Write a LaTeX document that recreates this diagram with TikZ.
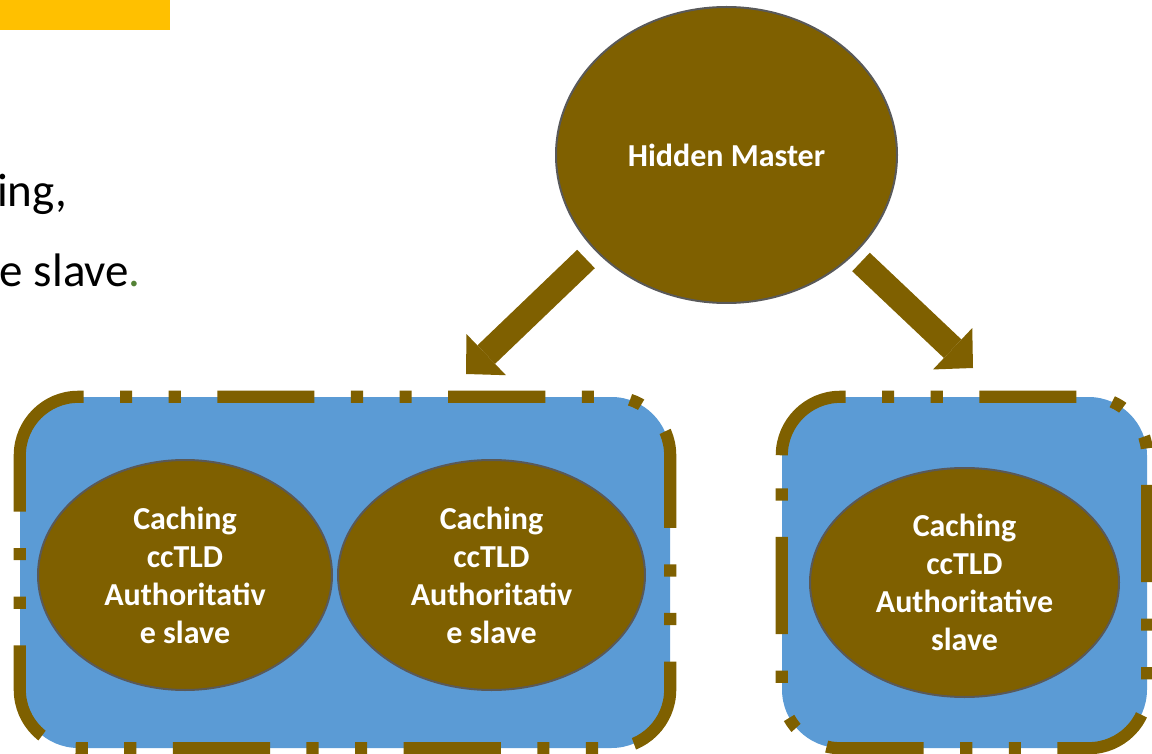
\documentclass[tikz,border=0pt]{standalone}
\usepackage{fontspec}
\setmainfont{Carlito}
\usetikzlibrary{shapes.geometric,arrows.meta,calc}
\definecolor{brn}{HTML}{7F6000}
\definecolor{bluefill}{HTML}{5B9BD5}
\definecolor{ygold}{HTML}{FFC000}
\definecolor{ogray}{HTML}{595959}
\definecolor{dotgreen}{HTML}{548235}
\tikzset{
  oval/.style={ellipse, fill=brn, draw=ogray, line width=2pt, inner sep=0pt,
    text=white, align=center, font=\bfseries\fontsize{32}{38}\selectfont},
  boxfill/.style={rectangle, rounded corners=58.5pt, fill=bluefill, draw=none,
    inner sep=0pt, minimum height=351pt},
  boxborder/.style={draw=brn, line width=12.15pt, rounded corners=58.5pt, line cap=butt,
    dash pattern=on 97.2pt off 36.45pt on 12.15pt off 36.45pt on 12.15pt off 36.45pt},
  bigarrow/.style={draw=brn, line width=25.5pt,
    -{Triangle[length=28pt,width=57pt,line width=0pt]}},
  bodytext/.style={inner sep=0pt, font=\fontsize{47}{55}\selectfont, text=black}
}
\begin{document}
\begin{tikzpicture}[x=1pt,y=-1pt]
\useasboundingbox (0,0) rectangle (1152,754);
% header bar and cut-off body text
\fill[ygold] (0,0) rectangle (170,30);
\node[bodytext, anchor=base west] (t1) at (-3,207) {ing,};
\node[bodytext, anchor=base east] (t2) at (141,287) {e slave\textcolor{dotgreen}{.}};
% boxes
\node[boxfill, minimum width=650pt] (box1) at (345,572.5) {};
\node[boxfill, minimum width=365pt] (box2) at (964.5,572.5) {};
\draw[boxborder] ($(box1.north west)+(0,58.5)$) -- (box1.north west) -- (box1.north east)
  -- (box1.south east) -- (box1.south west) -- ($(box1.north west)+(0,58.5)$);
\draw[boxborder] ($(box2.north west)+(0,58.5)$) -- (box2.north west) -- (box2.north east)
  -- (box2.south east) -- (box2.south west) -- ($(box2.north west)+(0,58.5)$);
% ovals
\node[oval, minimum width=341pt, minimum height=296pt] (hm) at (726.5,155) {Hidden Master};
\node[oval, minimum width=294pt, minimum height=230pt] (s1) at (185,575) {Caching\\ccTLD\\Authoritativ\\e slave};
\node[oval, minimum width=307pt, minimum height=230pt] (s2) at (491.5,575) {Caching\\ccTLD\\Authoritativ\\e slave};
\node[oval, minimum width=309pt, minimum height=229pt] (s3) at (964.5,582.5) {Caching\\ccTLD\\Authoritative\\slave};
% arrows
\coordinate (a1s) at (586,259);
\coordinate (a1e) at (466,374);
\coordinate (a2s) at (861,262);
\coordinate (a2e) at (973,368);
\draw[bigarrow] (a1s) -- (a1e);
\draw[bigarrow] (a2s) -- (a2e);
\end{tikzpicture}
\end{document}
